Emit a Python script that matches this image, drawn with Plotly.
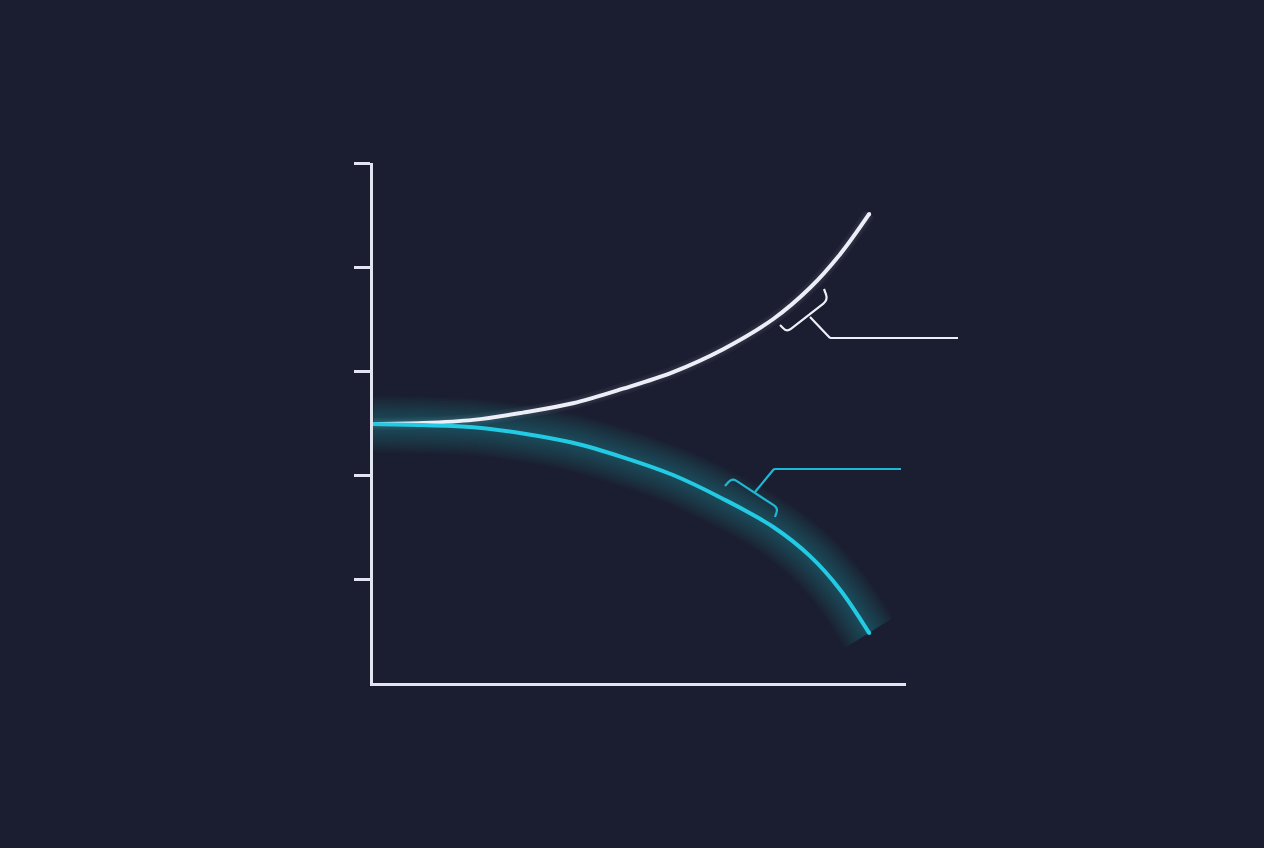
import math
import plotly.graph_objects as go

# ---- data ----
x_vals = [0.0, 0.94, 1.88, 2.81, 3.75, 4.69, 5.63, 6.57, 7.51, 8.20, 8.76, 9.31]
upper_series = [2.49, 2.50, 2.53, 2.60, 2.69, 2.83, 2.99, 3.21, 3.50, 3.80, 4.12, 4.51]
lower_series = [2.49, 2.48, 2.46, 2.40, 2.31, 2.17, 2.00, 1.77, 1.50, 1.22, 0.90, 0.48]
y_tick_vals = [1, 2, 3, 4, 5]

BG = "#1b1d30"
AXIS = "#e2e4f0"
WHITE = "#eceef8"
CYAN = "#22cbe3"
CYAN_DIM = "#1fb8d4"

W, H = 1264, 848
ML, MR, MT, MB = 373, 358, 163, 165
PW, PH = W - ML - MR, H - MT - MB


def paper(px, py):
    return (px - ML) / PW, (H - MB - py) / PH


def rounded_path(points, r=5):
    """Polyline (pixel space) with rounded interior corners, as paper-coord SVG path."""
    out = []

    def fmt(p):
        x, y = paper(*p)
        return f"{x:.5f},{y:.5f}"

    out.append("M " + fmt(points[0]))
    for i in range(1, len(points) - 1):
        p0, p1, p2 = points[i - 1], points[i], points[i + 1]
        d1 = math.hypot(p1[0] - p0[0], p1[1] - p0[1])
        d2 = math.hypot(p2[0] - p1[0], p2[1] - p1[1])
        rr = min(r, d1 / 2, d2 / 2)
        a = (p1[0] - (p1[0] - p0[0]) * rr / d1, p1[1] - (p1[1] - p0[1]) * rr / d1)
        b = (p1[0] + (p2[0] - p1[0]) * rr / d2, p1[1] + (p2[1] - p1[1]) * rr / d2)
        out.append("L " + fmt(a))
        out.append("Q " + fmt(p1) + " " + fmt(b))
    out.append("L " + fmt(points[-1]))
    return " ".join(out)


fig = go.Figure()

SM = 1.0
GLOW_A = 0.022
glow_widths = list(range(58, 6, -4))
# soft glow under the cyan curve (many faint layers)
for w in glow_widths:
    fig.add_trace(go.Scatter(
        x=x_vals, y=lower_series, mode="lines",
        line=dict(color=f"rgba(34,203,227,{GLOW_A})", width=w, shape="spline", smoothing=SM),
        hoverinfo="skip", showlegend=False))

# faint halo for the white curve
for w in (12, 8):
    fig.add_trace(go.Scatter(
        x=x_vals, y=upper_series, mode="lines",
        line=dict(color="rgba(236,238,248,0.045)", width=w, shape="spline", smoothing=SM),
        hoverinfo="skip", showlegend=False))

fig.add_trace(go.Scatter(
    x=x_vals, y=upper_series, mode="lines",
    line=dict(color=WHITE, width=4, shape="spline", smoothing=SM),
    hoverinfo="skip", showlegend=False))
fig.add_trace(go.Scatter(
    x=x_vals, y=lower_series, mode="lines",
    line=dict(color=CYAN, width=4, shape="spline", smoothing=SM),
    hoverinfo="skip", showlegend=False))
# round caps at curve ends
fig.add_trace(go.Scatter(
    x=[x_vals[-1]], y=[upper_series[-1]], mode="markers",
    marker=dict(size=4, color=WHITE, line=dict(width=0)),
    hoverinfo="skip", showlegend=False))
fig.add_trace(go.Scatter(
    x=[x_vals[-1]], y=[lower_series[-1]], mode="markers",
    marker=dict(size=4, color=CYAN, line=dict(width=0)),
    hoverinfo="skip", showlegend=False))

shapes = []
# white callout
shapes.append(dict(type="path", xref="paper", yref="paper",
                   path=rounded_path([(780, 325), (787, 332), (828, 300), (824, 289)], 6),
                   line=dict(color=WHITE, width=2.2)))
shapes.append(dict(type="path", xref="paper", yref="paper",
                   path=rounded_path([(810, 317), (830, 338), (958, 338)], 1),
                   line=dict(color=WHITE, width=2.2)))
# cyan callout
shapes.append(dict(type="path", xref="paper", yref="paper",
                   path=rounded_path([(725, 486), (732, 478), (778, 508), (775, 517)], 6),
                   line=dict(color=CYAN_DIM, width=2.2)))
shapes.append(dict(type="path", xref="paper", yref="paper",
                   path=rounded_path([(755, 492), (774, 469), (901, 469)], 1),
                   line=dict(color=CYAN_DIM, width=2.2)))

fig.update_layout(
    width=W, height=H,
    margin=dict(l=ML, r=MR, t=MT, b=MB, pad=0),
    paper_bgcolor=BG, plot_bgcolor=BG,
    showlegend=False,
    shapes=shapes,
    xaxis=dict(range=[0, 10], showgrid=False, zeroline=False, showticklabels=False,
               showline=True, linecolor=AXIS, linewidth=2.5, ticks="", fixedrange=True),
    yaxis=dict(range=[0, 5], showgrid=False, zeroline=False, showticklabels=False,
               showline=True, linecolor=AXIS, linewidth=2.5,
               tickmode="array", tickvals=y_tick_vals, ticks="outside",
               ticklen=16, tickwidth=2.5, tickcolor=AXIS, fixedrange=True),
)

fig.write_html(
    "out.html",
    config={"displayModeBar": False},
    post_script="document.body.style.margin='0px';document.body.style.backgroundColor='#1b1d30';"
                "document.body.style.overflow='hidden';",
)
